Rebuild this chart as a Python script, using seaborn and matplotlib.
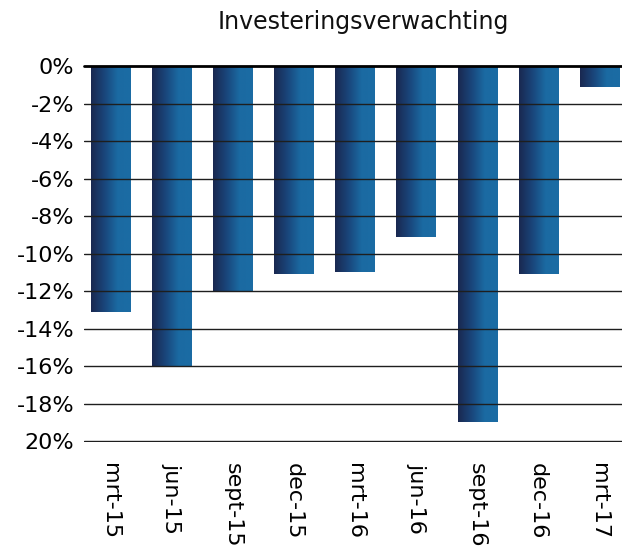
import numpy as np
import pandas as pd
import seaborn as sns
import matplotlib.pyplot as plt
from matplotlib.colors import LinearSegmentedColormap

periods = ['mrt-15', 'jun-15', 'sept-15', 'dec-15', 'mrt-16', 'jun-16', 'sept-16', 'dec-16', 'mrt-17']
values = [-13.1, -16.0, -12.0, -11.1, -11.0, -9.1, -19.0, -11.1, -1.1]
yticks = [0, -2, -4, -6, -8, -10, -12, -14, -16, -18, -20]
ylabels = ['0%', '-2%', '-4%', '-6%', '-8%', '-10%', '-12%', '-14%', '-16%', '-18%', '20%']

df = pd.DataFrame({'periode': periods, 'waarde': values})

sns.set_style('white')
plt.rcParams['font.family'] = ['DejaVu Sans']
plt.rcParams['text.color'] = 'black'
plt.rcParams['xtick.color'] = 'black'
plt.rcParams['ytick.color'] = 'black'

fig = plt.figure(figsize=(6.22, 5.49), dpi=100)
ax = fig.add_axes([84/622, 1-442/549, (622-84)/622, (442-66)/549])

sns.barplot(data=df, x='periode', y='waarde', ax=ax, width=0.64, color='#1b4a7a')

# gradient fill on each bar (dark navy left -> blue right)
cmap = LinearSegmentedColormap.from_list('grad', ['#1a2850', '#19457a', '#1b6aa2', '#1b6ca4'])
grad = np.linspace(0, 1, 256).reshape(1, -1)
for p in ax.patches:
    x0, y0 = p.get_x(), p.get_y()
    w, h = p.get_width(), p.get_height()
    p.set_facecolor('none')
    p.set_edgecolor('none')
    im = ax.imshow(grad, extent=[x0, x0 + w, y0 + h, y0], aspect='auto', cmap=cmap, zorder=2)
    im.set_clip_path(p)

ax.set_xlim(-0.43, 8.37)
ax.set_ylim(-20.05, 0)
ax.set_yticks(yticks)
ax.set_yticklabels(ylabels)
for t in yticks[1:]:
    ax.axhline(t, color='#1e1e1e', linewidth=1, zorder=3)
ax.axhline(0, color='black', linewidth=2, zorder=4, clip_on=False)

for s in ax.spines.values():
    s.set_visible(False)

ax.tick_params(axis='y', length=0, pad=7, labelsize=16)
ax.tick_params(axis='x', length=0, pad=15, labelsize=16, labelrotation=270)
for lbl in ax.get_xticklabels():
    lbl.set_va('top')
    lbl.set_ha('center')
ax.set_xlabel('')
ax.set_ylabel('')
ax.set_title('Investeringsverwachting', fontsize=17, pad=27, x=0.52, color='#111111')

fig.savefig('out.png', dpi=100)
